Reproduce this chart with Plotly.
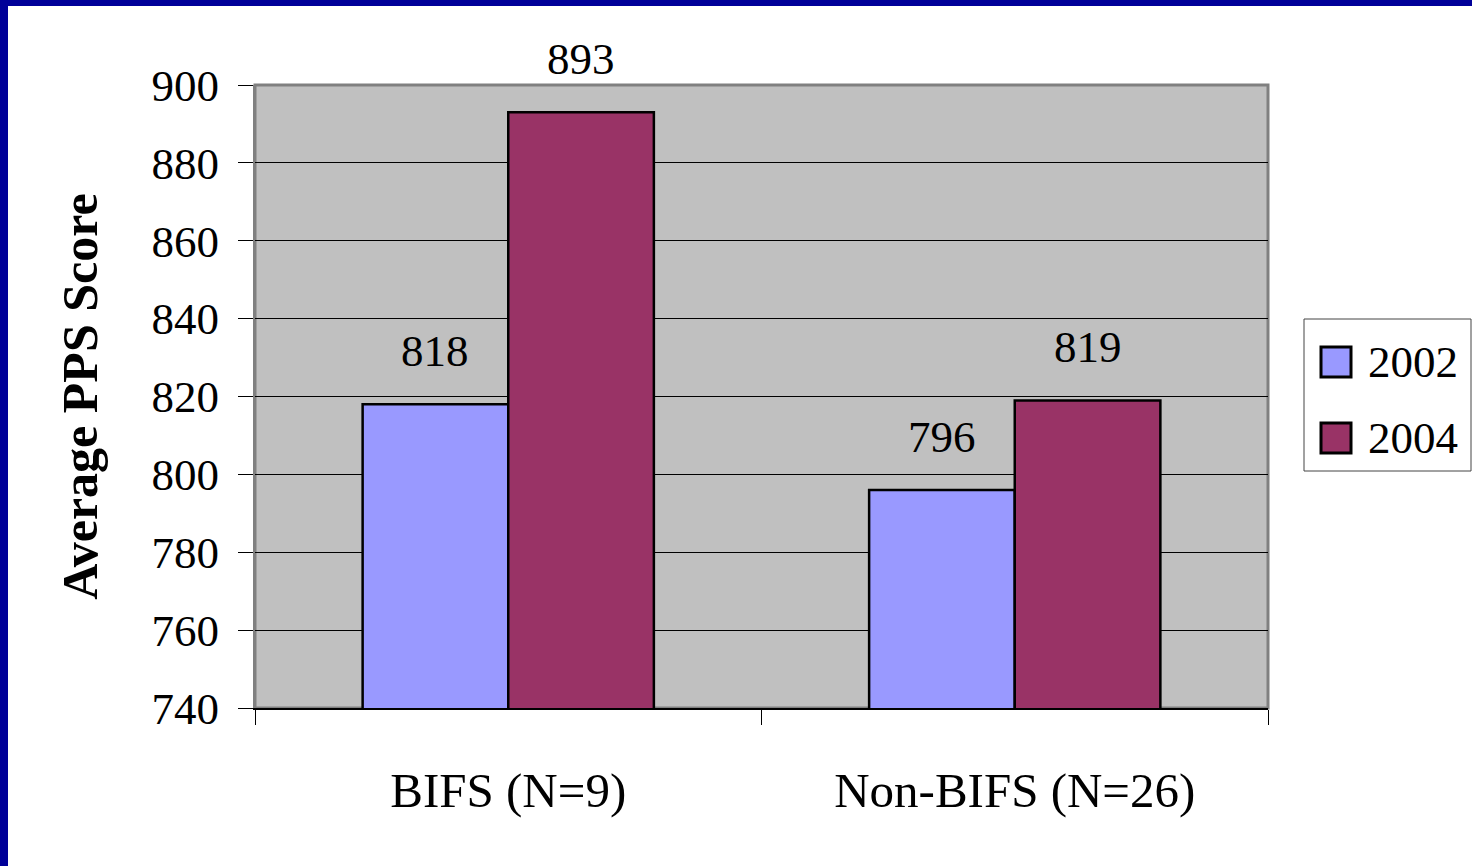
import plotly.graph_objects as go

# Average PPS scores by school group and year
categories = ["BIFS (N=9)", "Non-BIFS (N=26)"]
years = ["2002", "2004"]
scores_2002 = [818, 796]
scores_2004 = [893, 819]
y_ticks = [740, 760, 780, 800, 820, 840, 860, 880, 900]

series = [
    (years[0], scores_2002, "#9999FF"),
    (years[1], scores_2004, "#993366"),
]

W, H = 1472, 866
ML, MR, MT, MB = 255, 204, 85, 158
PW, PH = W - ML - MR, H - MT - MB
BARGAP = 0.425
SERIF = "Liberation Serif, Times New Roman, serif"


def px_x(px):
    return (px - ML) / PW


def px_y(py):
    return 1 - (py - MT) / PH


fig = go.Figure()
for name, vals, color in series:
    fig.add_trace(go.Bar(
        x=categories, y=vals, name=name, showlegend=False,
        marker=dict(color=color, line=dict(color="black", width=2.5)),
    ))

# value labels sitting above each bar
bar_w = (1 - BARGAP) / len(series)
annotations = []
for i, (name, vals, color) in enumerate(series):
    offset = (i - (len(series) - 1) / 2) * bar_w
    for j, v in enumerate(vals):
        annotations.append(dict(
            x=j + offset, y=v, xref="x", yref="y", text=str(v),
            showarrow=False, yanchor="middle", yshift=53,
            font=dict(family=SERIF, size=45, color="black"),
        ))

# legend box
shapes = [
    dict(type="rect", xref="paper", yref="paper",
         x0=px_x(1304), x1=px_x(1471), y0=px_y(471), y1=px_y(319),
         line=dict(color="#444444", width=1), fillcolor="white"),
]
for i, (name, vals, color) in enumerate(series):
    cy = 362 + i * 76
    shapes.append(dict(type="rect", xref="paper", yref="paper",
                       x0=px_x(1321), x1=px_x(1351), y0=px_y(cy + 15), y1=px_y(cy - 15),
                       line=dict(color="black", width=3), fillcolor=color))
    annotations.append(dict(x=px_x(1366), y=px_y(cy), xref="paper", yref="paper",
                            text=name, showarrow=False, xanchor="left", yanchor="middle",
                            font=dict(family=SERIF, size=45, color="black")))

# plot-area frame and the blue slide border
shapes.append(dict(type="rect", xref="paper", yref="paper", x0=0, x1=1, y0=0, y1=1,
                   line=dict(color="#808080", width=3), layer="below"))
shapes.append(dict(type="rect", xref="paper", yref="paper",
                   x0=px_x(0), x1=px_x(W), y0=px_y(6), y1=px_y(0),
                   line=dict(width=0), fillcolor="#000099"))
shapes.append(dict(type="rect", xref="paper", yref="paper",
                   x0=px_x(0), x1=px_x(8), y0=px_y(H), y1=px_y(0),
                   line=dict(width=0), fillcolor="#000099"))

fig.update_layout(
    width=W, height=H,
    margin=dict(l=ML, r=MR, t=MT, b=MB),
    paper_bgcolor="white", plot_bgcolor="#C0C0C0",
    barmode="group", bargap=BARGAP, bargroupgap=0,
    font=dict(family=SERIF, size=44, color="black"),
    annotations=annotations, shapes=shapes,
    showlegend=False,
)
fig.update_xaxes(
    type="category", tickson="boundaries", ticks="outside", ticklen=15,
    tickcolor="black", tickwidth=1, showline=True, linecolor="black", linewidth=2,
    showgrid=False, tickfont=dict(family=SERIF, size=49), ticklabelstandoff=38,
)
fig.update_yaxes(
    range=[740, 900], tickvals=y_ticks, ticks="outside", ticklen=15,
    tickcolor="black", tickwidth=1, showline=True, linecolor="#808080", linewidth=2,
    showgrid=True, gridcolor="black", gridwidth=1, zeroline=False,
    tickfont=dict(family=SERIF, size=45), ticklabelstandoff=10,
    title=dict(text="<b>Average PPS Score</b>", standoff=38,
               font=dict(family=SERIF, size=50)),
)

fig.write_html("out.html")
